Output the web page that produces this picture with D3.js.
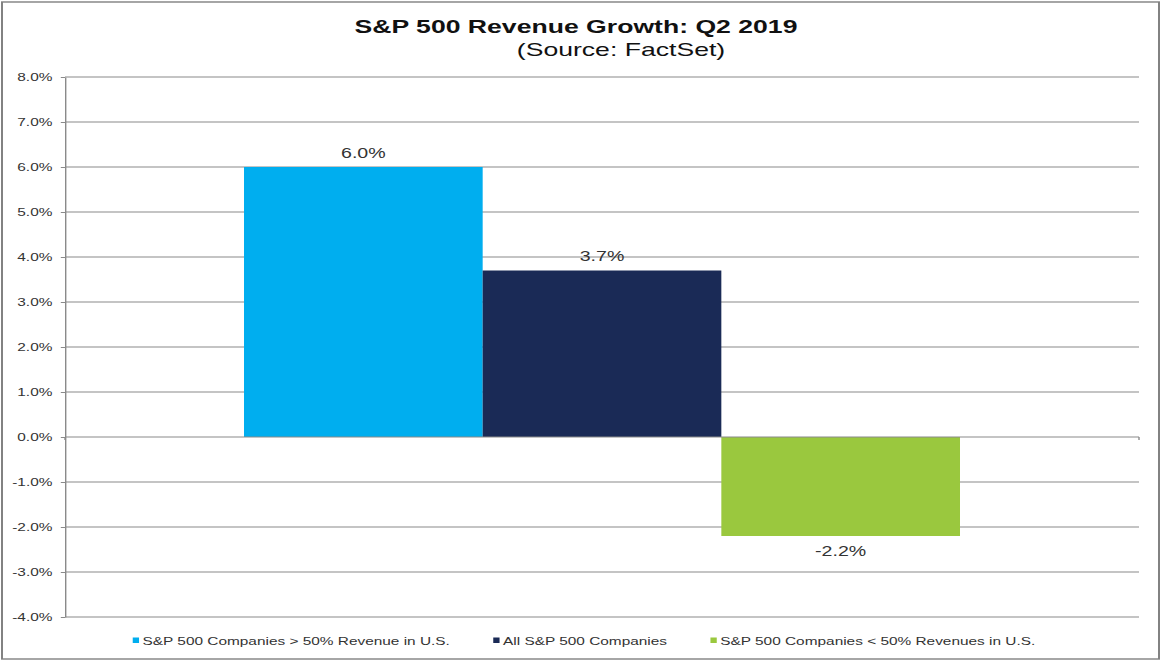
<!DOCTYPE html>
<html>
<head>
<meta charset="utf-8">
<script src="https://cdn.jsdelivr.net/npm/d3@7"></script>
<style>
  html, body { margin: 0; padding: 0; background: #fff; }
  svg { display: block; }
  text { font-family: "Liberation Sans", Arial, sans-serif; }
</style>
</head>
<body>
<svg id="vis"></svg>
<script>
// data
const categories = ["Q2 2019"];
const series = [
  "S&P 500 Companies > 50% Revenue in U.S.",
  "All S&P 500 Companies",
  "S&P 500 Companies < 50% Revenues in U.S."
];
const values = [6.0, 3.7, -2.2];
const yTicks = [-4, -3, -2, -1, 0, 1, 2, 3, 4, 5, 6, 7, 8];

const COLORS = ["#00aeef", "#1a2a56", "#9ac83e"];

const WIDTH = 1165;
const HEIGHT = 664;
// the picture is stretched sideways, so draw in a narrower box and let the viewBox widen it
const K = 1.4;
const VW = WIDTH / K;

const margin = {
  top: 77,
  right: VW - 1139 / K,
  left: 65 / K,
  bottom: HEIGHT - 617
}

const SVG = d3.select('#vis')
  .attr("width", WIDTH)
  .attr("height", HEIGHT)
  .attr("viewBox", `0 0 ${VW} ${HEIGHT}`)
  .attr("preserveAspectRatio", "none");

// outer frame
SVG.append("rect")
  .attr("x", 2 / K)
  .attr("y", 2)
  .attr("width", 1157 / K)
  .attr("height", 657)
  .attr("fill", "none")
  .attr("stroke", "#808080")
  .attr("stroke-width", 1.4);

// titles
SVG.append("text")
  .attr("x", 576 / K)
  .attr("y", 33)
  .attr("text-anchor", "middle")
  .attr("font-size", 19)
  .attr("font-weight", "bold")
  .attr("fill", "#111")
  .text("S&P 500 Revenue Growth: Q2 2019");

SVG.append("text")
  .attr("x", 621 / K)
  .attr("y", 56)
  .attr("text-anchor", "middle")
  .attr("font-size", 19)
  .attr("fill", "#111")
  .text("(Source: FactSet)");

const x0 = d3.scaleBand()
  .domain(categories)
  .range([margin.left, VW - margin.right])
  .paddingInner(0)
  .paddingOuter(0.25);

const x1 = d3.scaleBand()
  .domain(series)
  .range([0, x0.bandwidth()]);

const y = d3.scaleLinear()
  .domain([-4, 8])
  .range([HEIGHT - margin.bottom, margin.top]);

// plain hyphen for negatives, like the original
const fmt = (d) => d3.format(".1f")(d).replace("\u2212", "-") + "%";

// gridlines
SVG.append("g")
  .selectAll("line")
  .data(yTicks.filter((d) => d !== 0))
  .enter()
  .append("line")
  .attr("x1", margin.left)
  .attr("x2", VW - margin.right)
  .attr("y1", (d) => y(d))
  .attr("y2", (d) => y(d))
  .attr("stroke", "#8a8a8a")
  .attr("stroke-width", 1);

// y axis
const yAxis = SVG.append("g")
  .attr("transform", `translate(${margin.left}, 0)`)
  .call(d3.axisLeft(y)
    .tickValues(yTicks)
    .tickFormat(fmt)
    .tickSizeInner(3)
    .tickSizeOuter(0)
    .tickPadding(6));

yAxis.select(".domain").attr("stroke", "#8a8a8a");
yAxis.selectAll(".tick line").attr("stroke", "#8a8a8a");
yAxis.selectAll(".tick text")
  .attr("font-size", 11)
  .attr("font-family", "'Liberation Sans', Arial, sans-serif")
  .attr("fill", "#333");

// bars
const groups = SVG.selectAll(".cat")
  .data(categories)
  .enter()
  .append("g")
  .classed("cat", true)
  .attr("transform", (d) => `translate(${x0(d)}, 0)`);

const rows = series.map((s, i) => ({ name: s, value: values[i], color: COLORS[i] }));

groups.selectAll("rect")
  .data(rows)
  .enter()
  .append("rect")
  .attr("x", (d) => x1(d.name))
  .attr("y", (d) => y(Math.max(0, d.value)))
  .attr("width", x1.bandwidth())
  .attr("height", (d) => Math.abs(y(d.value) - y(0)))
  .attr("fill", (d) => d.color);

groups.selectAll(".lbl")
  .data(rows)
  .enter()
  .append("text")
  .classed("lbl", true)
  .attr("x", (d) => x1(d.name) + x1.bandwidth() / 2)
  .attr("y", (d) => d.value >= 0 ? y(d.value) - 9 : y(d.value) + 20)
  .attr("text-anchor", "middle")
  .attr("font-size", 14)
  .attr("fill", "#333")
  .text((d) => fmt(d.value));

// zero line (category axis)
const xAxis = SVG.append("g")
  .attr("transform", `translate(0, ${y(0)})`);

xAxis.append("line")
  .attr("x1", margin.left)
  .attr("x2", VW - margin.right)
  .attr("stroke", "#8a8a8a");

xAxis.selectAll(".xt")
  .data(x0.range())
  .enter()
  .append("line")
  .classed("xt", true)
  .attr("x1", (d) => d)
  .attr("x2", (d) => d)
  .attr("y1", 0)
  .attr("y2", 3)
  .attr("stroke", "#8a8a8a");

// legend
const legend = SVG.append("g").attr("transform", "translate(0, 645)");

const items = legend.selectAll(".item")
  .data(rows)
  .enter()
  .append("g")
  .classed("item", true);

items.append("rect")
  .attr("x", 0)
  .attr("y", -7.5)
  .attr("width", 4.5)
  .attr("height", 5.5)
  .attr("fill", (d) => d.color);

items.append("text")
  .attr("x", 7)
  .attr("font-size", 11)
  .attr("fill", "#333")
  .text((d) => d.name);

let pos = 0;
const offsets = [];
items.each(function(d) {
  offsets.push(pos);
  pos += 7 + d3.select(this).select("text").node().getComputedTextLength() + 31;
});
const total = pos - 31;
const start = 584 / K - total / 2;
items.attr("transform", (d, i) => `translate(${start + offsets[i]}, 0)`);
</script>
</body>
</html>
